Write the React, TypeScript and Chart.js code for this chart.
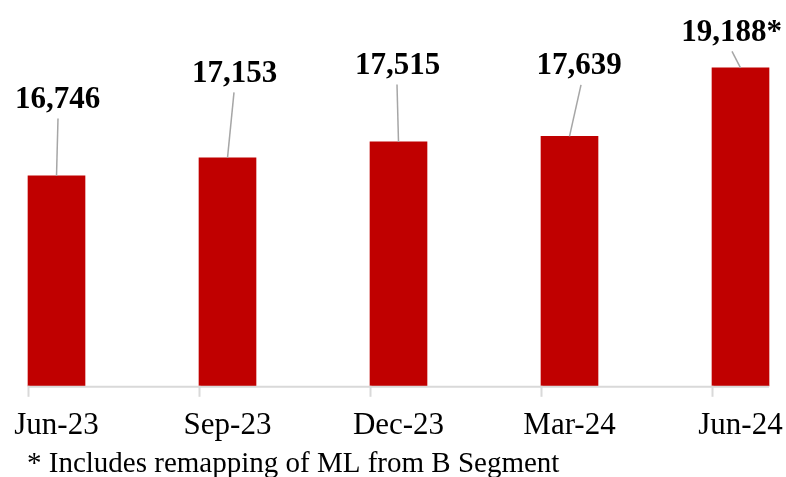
import React, { useEffect, useRef } from "react";
import { Chart, registerables } from "chart.js";

Chart.register(...registerables);

// ---- data ----
const categories: string[] = ["Jun-23", "Sep-23", "Dec-23", "Mar-24", "Jun-24"];
const values: number[] = [16746, 17153, 17515, 17639, 19188];
const valueLabels: string[] = ["16,746", "17,153", "17,515", "17,639", "19,188*"];
const footnote = "* Includes remapping of ML from B Segment";
const axisMin = 12000;
const axisMax = 20000;

// ---- manual label placement (relative to bar top centre), px ----
const labelDx: number[] = [1, 7, -1, 9.5, -9];
const labelDy: number[] = [-68, -76, -68, -62, -27];
const leaderDx: number[] = [0.5, -0.5, -0.5, 2, 0.5];

const FONT = "'Liberation Serif', 'Times New Roman', serif";
const BAR_COLOR = "#C00000";

const overlayPlugin = {
  id: "overlay",
  afterDatasetsDraw(chart: any) {
    const { ctx } = chart;
    const meta = chart.getDatasetMeta(0);
    const bars = meta.data as any[];
    if (!bars.length) return;
    const y0 = chart.scales.y.getPixelForValue(axisMin);
    const first = bars[0].getProps(["x", "width"], true);
    const last = bars[bars.length - 1].getProps(["x", "width"], true);

    ctx.save();
    // baseline
    ctx.strokeStyle = "#D9D9D9";
    ctx.lineWidth = 2;
    ctx.beginPath();
    ctx.moveTo(first.x - first.width / 2, y0 + 1);
    ctx.lineTo(last.x + last.width / 2, y0 + 1);
    ctx.stroke();
    // tick marks at bar left edges
    bars.forEach((b) => {
      const p = b.getProps(["x", "width"], true);
      const xx = Math.round(p.x - p.width / 2) + 0.5;
      ctx.beginPath();
      ctx.moveTo(xx, y0);
      ctx.lineTo(xx, y0 + 11);
      ctx.stroke();
    });

    // leader lines and value labels
    bars.forEach((b, i) => {
      const p = b.getProps(["x", "y"], true);
      const lx = p.x + labelDx[i];
      const ly = p.y + labelDy[i];
      ctx.strokeStyle = "#A6A6A6";
      ctx.lineWidth = 1.5;
      ctx.beginPath();
      ctx.moveTo(lx + leaderDx[i], ly + 10.5);
      ctx.lineTo(p.x, p.y);
      ctx.stroke();

      ctx.fillStyle = "#000000";
      ctx.font = `bold 31px ${FONT}`;
      ctx.textAlign = "center";
      ctx.textBaseline = "alphabetic";
      ctx.fillText(valueLabels[i], lx, ly);
    });

    // footnote
    ctx.fillStyle = "#000000";
    ctx.font = `29px ${FONT}`;
    ctx.textAlign = "left";
    ctx.textBaseline = "alphabetic";
    ctx.fillText(footnote, first.x - first.width / 2 - 1, 472);
    ctx.restore();
  },
};

export default function App() {
  const canvasRef = useRef<HTMLCanvasElement | null>(null);

  useEffect(() => {
    if (!canvasRef.current) return;
    const chart = new Chart(canvasRef.current, {
      type: "bar",
      data: {
        labels: categories,
        datasets: [
          {
            data: values,
            backgroundColor: BAR_COLOR,
            borderWidth: 0,
            barThickness: 57,
            base: axisMin,
            clip: false as any,
          } as any,
        ],
      },
      options: {
        animation: false,
        responsive: true,
        maintainAspectRatio: false,
        layout: { padding: { left: 56.5, right: 45.5, top: 32, bottom: 33 } },
        plugins: {
          legend: { display: false },
          tooltip: { enabled: false },
        },
        scales: {
          x: {
            offset: false,
            grid: { display: false, drawTicks: true, tickLength: 21 },
            border: { display: false },
            ticks: {
              color: "#000000",
              font: { family: FONT, size: 31 },
              padding: 0,
              maxRotation: 0,
              autoSkip: false,
            },
          },
          y: {
            display: false,
            min: axisMin,
            max: axisMax,
          },
        },
      },
      plugins: [overlayPlugin],
    });
    return () => chart.destroy();
  }, []);

  return (
    <div style={{ position: "fixed", left: 0, top: 0, width: 786, height: 477, background: "#ffffff" }}>
      <canvas ref={canvasRef} />
    </div>
  );
}
